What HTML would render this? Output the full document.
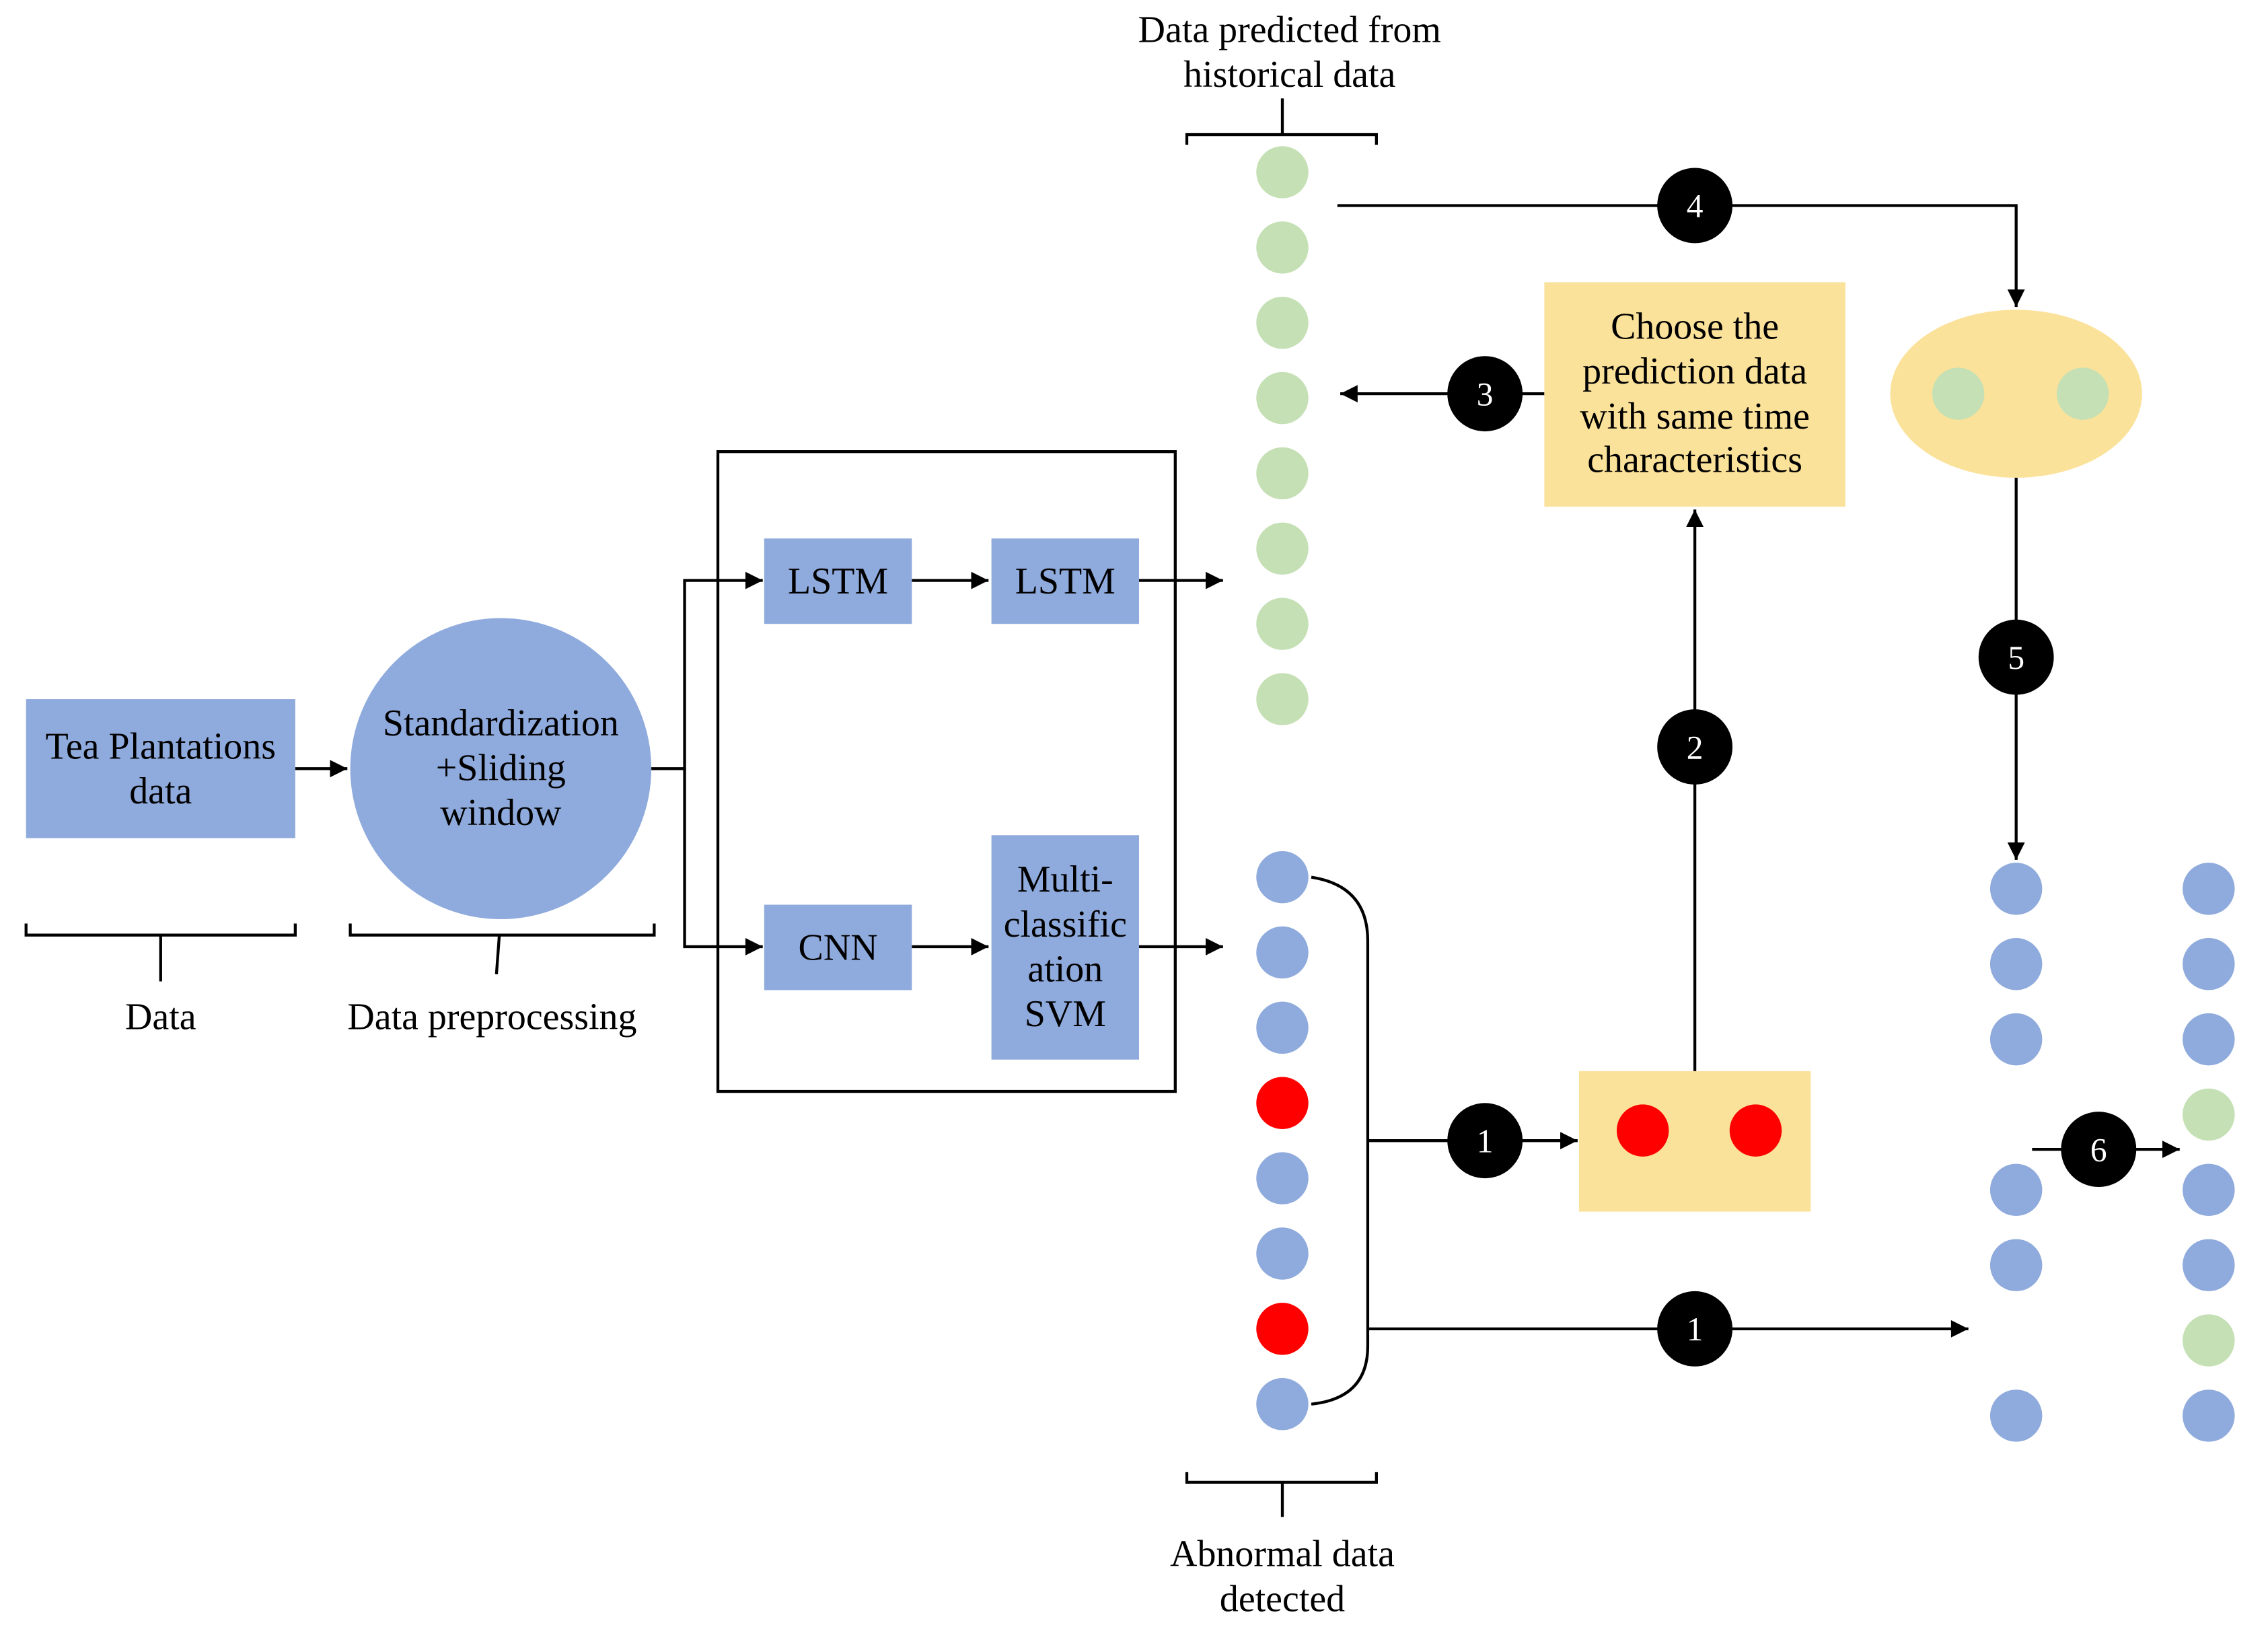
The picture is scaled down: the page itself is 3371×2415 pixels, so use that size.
<!DOCTYPE html>
<html><head><meta charset="utf-8"><style>html,body{margin:0;padding:0;background:#fff}svg{display:block}</style></head>
<body>
<svg xmlns="http://www.w3.org/2000/svg" width="3371" height="2415" viewBox="0 0 1567 1122.6" font-family="Liberation Serif, serif" font-size="26" fill="#000">
<defs>
<marker id="b" viewBox="0 0 10 10" refX="10" refY="5" markerWidth="14" markerHeight="12" markerUnits="userSpaceOnUse" orient="auto"><path d="M0,0 L10,5 L0,10 z" fill="#000"/></marker></defs>
<g stroke="#000" stroke-width="2" fill="none">
<path d="M18,638 V646 H204 V638 M111,646 V678"/>
<path d="M242,638 V646 H452 V638 M345,646 L343,673"/>
<path d="M820,100 V93 H951 V100 M886,93 V68"/>
<path d="M820,1017 V1024 H951 V1017 M886,1024 V1048"/>
<rect x="496" y="312" width="316" height="442"/>
<path d="M204,531 H240" marker-end="url(#b)"/>
<path d="M450,531 H473 V401 H527" marker-end="url(#b)"/>
<path d="M473,531 V654 H527" marker-end="url(#b)"/>
<path d="M630,401 H683" marker-end="url(#b)"/>
<path d="M787,401 H845" marker-end="url(#b)"/>
<path d="M630,654 H683" marker-end="url(#b)"/>
<path d="M787,654 H845" marker-end="url(#b)"/>
<path d="M906,606 Q945,612 945,650 V930 Q945,966 906,970"/>
<path d="M945,788 H1090" marker-end="url(#b)"/>
<path d="M945,918 H1360" marker-end="url(#b)"/>
<path d="M924,142 H1393 V212" marker-end="url(#b)"/>
<path d="M1067,272 H926" marker-end="url(#b)"/>
<path d="M1171,740 V352" marker-end="url(#b)"/>
<path d="M1393,330 V594" marker-end="url(#b)"/>
<path d="M1404,794 H1506" marker-end="url(#b)"/>
</g>
<g fill="#8faadc">
<rect x="18" y="483" width="186" height="96"/>
<circle cx="346" cy="531" r="104"/>
<rect x="528" y="372" width="102" height="59"/>
<rect x="685" y="372" width="102" height="59"/>
<rect x="528" y="625" width="102" height="59"/>
<rect x="685" y="577" width="102" height="155"/>
</g>
<g text-anchor="middle">
<text x="111" y="524">Tea Plantations</text><text x="111" y="555">data</text>
<text x="346" y="508">Standardization</text><text x="346" y="539">+Sliding</text><text x="346" y="570">window</text>
<text x="579" y="410">LSTM</text><text x="736" y="410">LSTM</text><text x="579" y="663">CNN</text>
<text x="736" y="616">Multi-</text><text x="736" y="647">classific</text><text x="736" y="678">ation</text><text x="736" y="709">SVM</text>
<text x="111" y="711">Data</text><text x="340" y="711">Data preprocessing</text>
<text x="891" y="29">Data predicted from</text><text x="891" y="60">historical data</text>
<text x="886" y="1082">Abnormal data</text><text x="886" y="1113">detected</text>
</g>
<rect x="1067" y="195" width="208" height="155" fill="#fbe29a"/>
<g text-anchor="middle"><text x="1171" y="234">Choose the</text><text x="1171" y="265">prediction data</text><text x="1171" y="296">with same time</text><text x="1171" y="326">characteristics</text></g>
<rect x="1091" y="740" width="160" height="97" fill="#fbe29a"/>
<circle cx="1135" cy="781" r="18" fill="#f00"/><circle cx="1213" cy="781" r="18" fill="#f00"/>
<ellipse cx="1393" cy="272" rx="87" ry="58" fill="#fbe29a"/>
<circle cx="1353" cy="272" r="18" fill="#c5e0b4"/><circle cx="1439" cy="272" r="18" fill="#c5e0b4"/>
<g fill="#c5e0b4">
<circle cx="886" cy="119" r="18"/><circle cx="886" cy="171" r="18"/><circle cx="886" cy="223" r="18"/><circle cx="886" cy="275" r="18"/><circle cx="886" cy="327" r="18"/><circle cx="886" cy="379" r="18"/><circle cx="886" cy="431" r="18"/><circle cx="886" cy="483" r="18"/>
<circle cx="1526" cy="770" r="18"/><circle cx="1526" cy="926" r="18"/>
</g>
<g fill="#8faadc">
<circle cx="886" cy="606" r="18"/><circle cx="886" cy="658" r="18"/><circle cx="886" cy="710" r="18"/><circle cx="886" cy="814" r="18"/><circle cx="886" cy="866" r="18"/><circle cx="886" cy="970" r="18"/>
<circle cx="1393" cy="614" r="18"/><circle cx="1393" cy="666" r="18"/><circle cx="1393" cy="718" r="18"/><circle cx="1393" cy="822" r="18"/><circle cx="1393" cy="874" r="18"/><circle cx="1393" cy="978" r="18"/>
<circle cx="1526" cy="614" r="18"/><circle cx="1526" cy="666" r="18"/><circle cx="1526" cy="718" r="18"/><circle cx="1526" cy="822" r="18"/><circle cx="1526" cy="874" r="18"/><circle cx="1526" cy="978" r="18"/>
</g>
<circle cx="886" cy="762" r="18" fill="#f00"/><circle cx="886" cy="918" r="18" fill="#f00"/>
<g fill="#000"><circle cx="1026" cy="788" r="26"/><circle cx="1171" cy="918" r="26"/><circle cx="1171" cy="516" r="26"/><circle cx="1026" cy="272" r="26"/><circle cx="1171" cy="142" r="26"/><circle cx="1393" cy="454" r="26"/><circle cx="1450" cy="794" r="26"/></g>
<g fill="#fff" text-anchor="middle" font-size="23">
<text x="1026" y="796">1</text><text x="1171" y="926">1</text><text x="1171" y="524">2</text><text x="1026" y="280">3</text><text x="1171" y="150">4</text><text x="1393" y="462">5</text><text x="1450" y="802">6</text>
</g>
</svg>
</body></html>
